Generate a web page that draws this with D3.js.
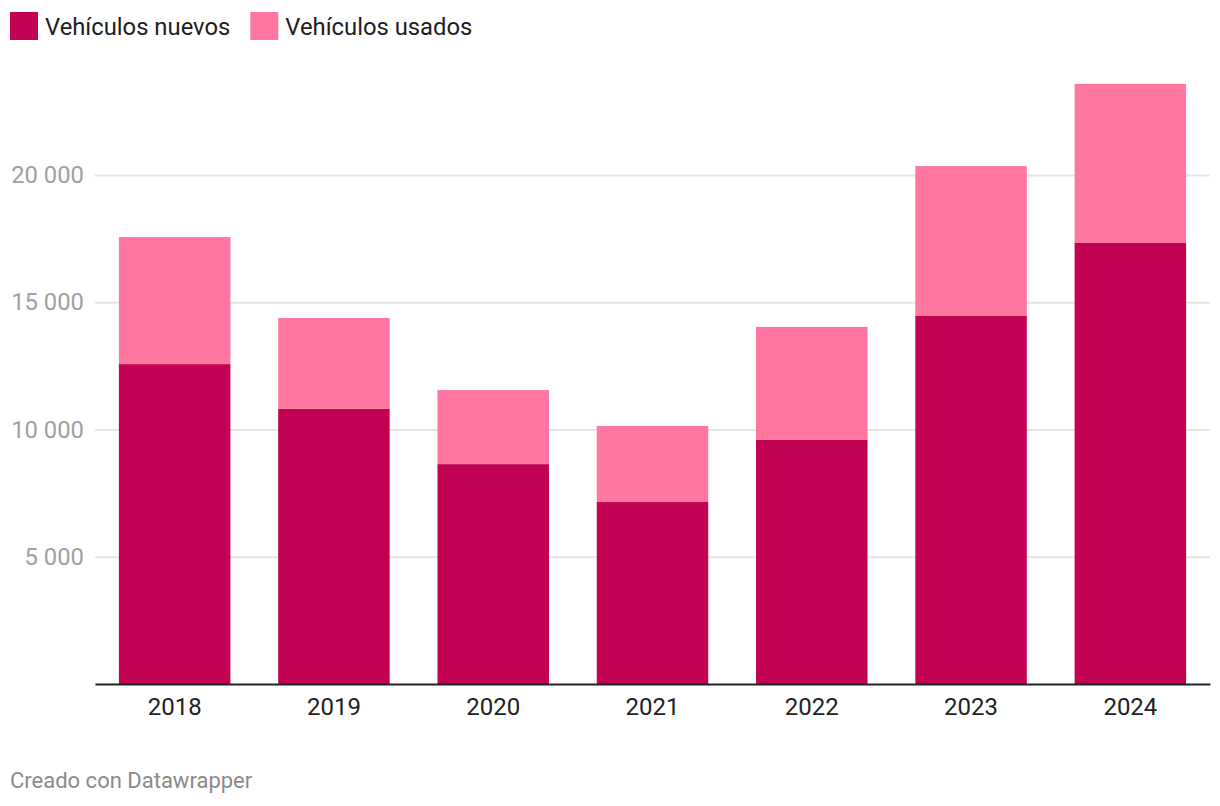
<!DOCTYPE html>
<html>
<head>
<meta charset="utf-8">
<script src="https://cdn.jsdelivr.net/npm/d3@7"></script>
<style>
  body { margin: 0; background: #fff; font-family: Roboto, "Noto Sans", sans-serif; }
</style>
</head>
<body>
<div id="content"></div>
<script>
// values
let years = ["2018", "2019", "2020", "2021", "2022", "2023", "2024"];
let nuevos = [12570, 10810, 8640, 7150, 9590, 14460, 17330];
let usados = [4990, 3570, 2910, 2990, 4440, 5890, 6250];
let seriesNames = ["Vehículos nuevos", "Vehículos usados"];
let seriesColors = ["#c20252", "#ff76a0"];
let yTicks = [5000, 10000, 15000, 20000];

let width = 1220;
let height = 806;
let margin = {top: 84, right: 10, bottom: 122, left: 95};

let svg = d3.select("#content").append("svg")
  .attr("width", width)
  .attr("height", height);

let rows = years.map((y, i) => ({year: y, nuevos: nuevos[i], usados: usados[i]}));
let stacked = d3.stack().keys(["nuevos", "usados"])(rows);

let x = d3.scaleBand()
  .domain(years)
  .range([margin.left, width - margin.right])
  .paddingInner(0.3)
  .paddingOuter(0.15);

let y = d3.scaleLinear()
  .domain([0, 20000])
  .range([684, 175]);

// gridlines + labels
let yAxis = svg.append("g")
  .attr("transform", `translate(${margin.left},0)`)
  .call(d3.axisLeft(y).tickValues(yTicks)
    .tickSize(-(width - margin.right - margin.left))
    .tickPadding(11)
    .tickFormat(d => d3.format(",")(d).replace(/,/g, " ")));
yAxis.select(".domain").remove();
yAxis.selectAll(".tick line").attr("stroke", "#e6e6e6").attr("stroke-width", 2);
yAxis.selectAll(".tick text")
  .attr("fill", "#a0a0a0")
  .style("font-size", "23.8px")
  .style("font-family", "Roboto");

// bars
svg.append("g").selectAll("g")
  .data(stacked)
  .join("g")
  .attr("fill", (d, i) => seriesColors[i])
  .selectAll("rect")
  .data(d => d)
  .join("rect")
  .attr("x", d => x(d.data.year))
  .attr("y", d => y(d[1]))
  .attr("width", x.bandwidth())
  .attr("height", d => y(d[0]) - y(d[1]));

// x axis
let xAxis = svg.append("g")
  .attr("transform", `translate(0,${y(0)})`)
  .call(d3.axisBottom(x).tickSize(0).tickPadding(14));
xAxis.select(".domain").attr("stroke", "#222").attr("stroke-width", 2);
xAxis.selectAll(".tick text")
  .attr("fill", "#222")
  .style("font-size", "24px")
  .style("font-family", "Roboto");

// legend
let legend = svg.append("g");
let lx = 10;
seriesNames.forEach((name, i) => {
  let g = legend.append("g").attr("transform", `translate(${lx},12)`);
  g.append("rect").attr("width", 28).attr("height", 28).attr("fill", seriesColors[i]);
  let t = g.append("text")
    .attr("x", 35).attr("y", 23)
    .attr("fill", "#1d1d1d")
    .style("font-size", "23.8px")
    .style("font-family", "Roboto")
    .text(name);
  lx += 35 + t.node().getComputedTextLength() + 20;
});

// footer
svg.append("text")
  .attr("x", 10).attr("y", 788)
  .attr("fill", "#8a8a8a")
  .style("font-size", "22px")
  .style("font-family", "Roboto")
  .text("Creado con Datawrapper");
</script>
</body>
</html>
